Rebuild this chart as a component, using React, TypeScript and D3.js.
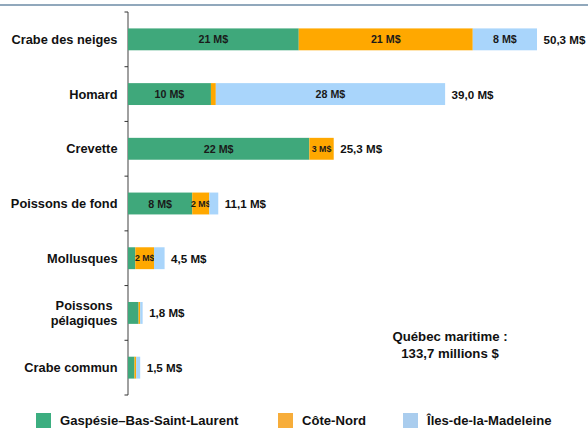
import { useEffect, useRef } from 'react';
import * as d3 from 'd3';

const categories = [
    'Crabe des neiges',
    'Homard',
    'Crevette',
    'Poissons de fond',
    'Mollusques',
    'Poissons\npélagiques',
    'Crabe commun'
];
const gaspesie = [21.0, 10.2, 22.3, 7.9, 0.9, 1.3, 0.8];
const coteNord = [21.4, 0.6, 3.0, 2.1, 2.3, 0.2, 0.2];
const iles = [7.9, 28.2, 0.0, 1.1, 1.3, 0.3, 0.5];
const totals = ['50,3 M$', '39,0 M$', '25,3 M$', '11,1 M$', '4,5 M$', '1,8 M$', '1,5 M$'];
const seriesNames = ['Gaspésie–Bas-Saint-Laurent', 'Côte-Nord', 'Îles-de-la-Madeleine'];
const barColors = ['#3fa87b', '#ffa800', '#a9d5fb'];
const legendColors = ['#3cae80', '#f7ad3a', '#aacdee'];

export default function App() {
    const svgRef = useRef<SVGSVGElement>(null);

    useEffect(() => {
        if (!svgRef.current) return;
        const svg = d3.select(svgRef.current);
        svg.selectAll('*').remove();
        const font = 'Liberation Sans, Arial, sans-serif';
        const catSize = '12.8px';

        const rows = categories.map((c, i) => ({ cat: c, vals: [gaspesie[i], coteNord[i], iles[i]], total: totals[i] }));

        const x = d3.scaleLinear().domain([0, 50.3]).range([128, 537]);
        const y = d3.scaleBand().domain(categories).range([12, 395]).paddingInner(0.6).paddingOuter(0.3);
        const step = y.step();

        // top rule
        svg.append('line')
            .attr('x1', 0).attr('x2', 588).attr('y1', 5).attr('y2', 5)
            .attr('stroke', '#6d8ba6').attr('stroke-width', 1.5);

        // axis line + ticks at band boundaries
        svg.append('line')
            .attr('x1', 128).attr('x2', 128).attr('y1', 12).attr('y2', 395)
            .attr('stroke', '#808080').attr('stroke-width', 1.5);
        d3.range(categories.length + 1).forEach(i => {
            const ty = 12 + i * step;
            svg.append('line')
                .attr('x1', 124.5).attr('x2', 128).attr('y1', ty).attr('y2', ty)
                .attr('stroke', '#333').attr('stroke-width', 1);
        });

        const g = svg.append('g');
        rows.forEach(r => {
            const by = y(r.cat) || 0;
            const bh = y.bandwidth();
            let acc = 0;
            r.vals.forEach((v, k) => {
                const x0 = x(acc);
                const x1 = x(acc + v);
                acc += v;
                if (v <= 0) return;
                g.append('rect')
                    .attr('x', x0).attr('y', by).attr('width', x1 - x0).attr('height', bh)
                    .attr('fill', barColors[k]);
                const rounded = Math.round(v);
                if (rounded >= 2) {
                    const w = x1 - x0;
                    g.append('text')
                        .attr('x', (x0 + x1) / 2).attr('y', by + bh / 2)
                        .attr('text-anchor', 'middle').attr('dominant-baseline', 'central')
                        .style('font-family', font).style('font-weight', 'bold')
                        .style('font-size', w < 30 ? '8.8px' : '10.7px')
                        .attr('fill', '#1a1a1a')
                        .text(`${rounded} M$`);
                }
            });
            g.append('text')
                .attr('x', x(acc) + 6.5).attr('y', by + bh / 2)
                .attr('dominant-baseline', 'central')
                .style('font-family', font).style('font-weight', 'bold').style('font-size', '11.6px')
                .attr('fill', '#111')
                .text(r.total);

            // category label
            const lines = r.cat.split('\n');
            const lab = svg.append('text')
                .style('font-family', font).style('font-weight', 'bold').style('font-size', catSize)
                .attr('fill', '#111');
            const cy = by + bh / 2;
            if (lines.length === 1) {
                lab.attr('x', 117.5).attr('y', cy).attr('text-anchor', 'end')
                    .attr('dominant-baseline', 'central').text(lines[0]);
            } else {
                const widths = lines.map(l => {
                    const t = svg.append('text').style('font-family', font).style('font-weight', 'bold')
                        .style('font-size', catSize).text(l);
                    const len = (t.node() as SVGTextElement).getComputedTextLength();
                    t.remove();
                    return len;
                });
                const cx = 117.5 - d3.max(widths)! / 2;
                lines.forEach((l, j) => {
                    lab.append('tspan')
                        .attr('x', cx).attr('y', cy + (j - (lines.length - 1) / 2) * 15)
                        .attr('text-anchor', 'middle').attr('dominant-baseline', 'central')
                        .text(l);
                });
            }
        });

        // total note
        const note = svg.append('text')
            .attr('text-anchor', 'middle')
            .style('font-family', font).style('font-weight', 'bold').style('font-size', '13.2px')
            .attr('fill', '#111');
        note.append('tspan').attr('x', 450).attr('y', 336).attr('dominant-baseline', 'central').text('Québec maritime :');
        note.append('tspan').attr('x', 450).attr('y', 353).attr('dominant-baseline', 'central').text('133,7 millions $');

        // legend
        const legendX = [36, 278, 403];
        seriesNames.forEach((n, k) => {
            svg.append('rect')
                .attr('x', legendX[k]).attr('y', 413).attr('width', 15).attr('height', 15)
                .attr('fill', legendColors[k]);
            svg.append('text')
                .attr('x', legendX[k] + 24).attr('y', 420.5)
                .attr('dominant-baseline', 'central')
                .style('font-family', font).style('font-weight', 'bold').style('font-size', '13.1px')
                .attr('fill', '#111')
                .text(n);
        });
    }, []);

    return (
        <svg
            ref={svgRef}
            width={588}
            height={428}
            style={{ position: 'absolute', left: 0, top: 0, background: '#fff' }}
        />
    );
}
